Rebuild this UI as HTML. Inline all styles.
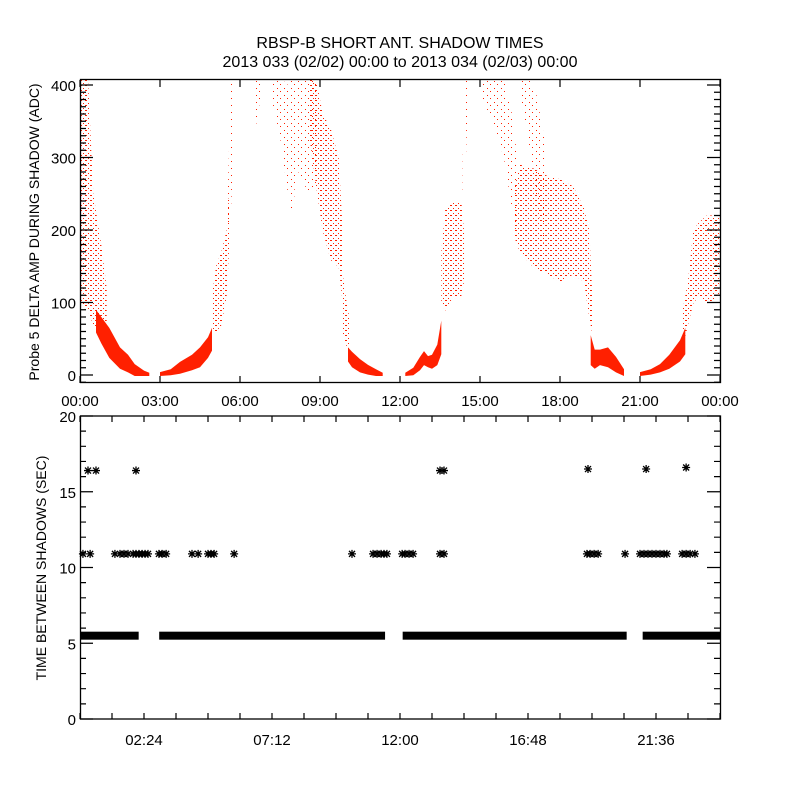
<!DOCTYPE html>
<html><head><meta charset="utf-8"><style>
body{margin:0;background:#fff}
svg text{font-family:"Liberation Sans",sans-serif;fill:#000}
</style></head><body>
<svg id="chart" width="800" height="800" viewBox="0 0 800 800" xmlns="http://www.w3.org/2000/svg">
<defs>
<pattern id="sparse" width="5" height="5" patternUnits="userSpaceOnUse"><rect x="0" y="0" width="2" height="1" fill="#ff2000"/><rect x="3" y="3" width="1" height="1" fill="#ff2000"/></pattern>
<pattern id="light" width="7" height="7" patternUnits="userSpaceOnUse"><rect x="0" y="0" width="1" height="1" fill="#ff2000"/><rect x="4" y="4" width="1" height="1" fill="#ff2000"/></pattern>
<clipPath id="clipTop"><rect x="80" y="80" width="640" height="303"/></clipPath>
</defs>
<rect width="800" height="800" fill="#fff"/>
<text x="400" y="48" font-size="16" text-anchor="middle">RBSP-B SHORT ANT. SHADOW TIMES</text>
<text x="400" y="67" font-size="16" text-anchor="middle">2013 033 (02/02) 00:00 to 2013 034 (02/03) 00:00</text>
<g id="topPanel"></g>
<g id="botPanel"></g>
<text transform="translate(39,232) rotate(-90)" font-size="14" text-anchor="middle">Probe 5 DELTA AMP DURING SHADOW (ADC)</text>
<text transform="translate(46,568) rotate(-90)" font-size="14" text-anchor="middle">TIME BETWEEN SHADOWS (SEC)</text>
</svg>
<script>
// ---- top panel data: clusters (hours, low ADC, high ADC, density) ----
const c1aH=[0.0,0.3,0.5,0.8,1.0], c1aLo=[100,90,70,60,50], c1aHi=[410,410,250,180,120];
const c1bH=[0.6,0.8,1.1,1.5,1.8,2.05,2.4,2.6], c1bLo=[60,45,25,10,5,0,0,0], c1bHi=[90,80,65,38,28,15,6,3];
const c2aH=[3.0,3.4,3.75,4.2,4.5,4.8,4.95], c2aLo=[0,1,3,8,12,25,35], c2aHi=[4,8,18,28,38,52,65];
const c2bH=[4.95,5.1,5.3,5.5,5.6], c2bLo=[60,60,70,110,180], c2bHi=[110,150,170,200,260];
const c2cH=[5.55,5.65,5.75,5.8], c2cLo=[200,220,300,380], c2cHi=[260,400,410,410];
const s3aH=[6.5,6.6,6.8], s3aLo=[370,345,390], s3aHi=[410,410,410];
const s3bH=[7.2,7.5,7.8,8.0,8.1], s3bLo=[380,330,250,215,300], s3bHi=[410,410,400,380,360];
const s3cH=[7.9,8.2,8.6,8.9], s3cLo=[340,280,250,270], s3cHi=[410,410,410,410];
const m3H=[8.6,8.9,9.1,9.4,9.7,9.85], m3Lo=[330,250,200,160,150,100], m3Hi=[410,400,360,340,300,200];
const t3H=[9.85,10.0,10.1], t3Lo=[60,40,30], t3Hi=[140,100,80];
const d3H=[10.05,10.2,10.5,10.8,11.1,11.35], d3Lo=[20,12,5,2,0,0], d3Hi=[38,32,22,14,8,3];
const d4H=[12.2,12.5,12.75,12.9,13.05,13.2,13.4,13.55], d4Lo=[0,1,8,15,12,10,15,30], d4Hi=[3,10,25,33,26,28,42,75];
const s4H=[13.55,13.7,14.0,14.3,14.4], s4Lo=[100,90,110,110,130], s4Hi=[170,230,240,240,200];
const l4H=[14.35,14.45,14.55], l4Lo=[250,270,390], l4Hi=[300,410,410];
const s5aH=[15.1,15.5,15.9,16.2,16.4], s5aLo=[380,350,300,230,185], s5aHi=[410,410,410,360,300];
const s5bH=[16.5,16.8,17.1,17.4], s5bLo=[390,330,250,180], s5bHi=[410,410,390,330];
const cl5H=[16.3,16.5,17.0,17.5,18.0,18.5,18.9,19.1,19.2], cl5Lo=[190,170,150,140,130,140,130,80,60], cl5Hi=[260,290,285,275,270,260,230,200,120];
const d5H=[19.15,19.3,19.5,19.8,20.1,20.4], d5Lo=[15,10,15,12,5,0], d5Hi=[55,35,35,38,25,8];
const d6H=[21.0,21.4,21.75,22.1,22.5,22.7], d6Lo=[0,2,5,10,20,30], d6Hi=[4,8,15,28,48,65];
const s6H=[22.6,22.8,23.0,23.2,23.5,24.0], s6Lo=[40,70,100,110,100,110], s6Hi=[90,130,200,210,220,220];
const topClusters=[
 [c1aH,c1aLo,c1aHi,'s'],[c1bH,c1bLo,c1bHi,'d'],[c2aH,c2aLo,c2aHi,'d'],[c2bH,c2bLo,c2bHi,'s'],[c2cH,c2cLo,c2cHi,'l'],
 [s3aH,s3aLo,s3aHi,'l'],[s3bH,s3bLo,s3bHi,'l'],[s3cH,s3cLo,s3cHi,'l'],[m3H,m3Lo,m3Hi,'s'],[t3H,t3Lo,t3Hi,'s'],[d3H,d3Lo,d3Hi,'d'],
 [d4H,d4Lo,d4Hi,'d'],[s4H,s4Lo,s4Hi,'s'],[l4H,l4Lo,l4Hi,'l'],
 [s5aH,s5aLo,s5aHi,'l'],[s5bH,s5bLo,s5bHi,'l'],[cl5H,cl5Lo,cl5Hi,'s'],[d5H,d5Lo,d5Hi,'d'],
 [d6H,d6Lo,d6Hi,'d'],[s6H,s6Lo,s6Hi,'s']];
const topYTicks=[0,100,200,300,400];
const topXLabels=['00:00','03:00','06:00','09:00','12:00','15:00','18:00','21:00','00:00'];
// ---- bottom panel data ----
const bandStart=[0.0,2.97,12.1,21.1], bandEnd=[2.2,11.44,20.5,24.0], bandValue=[5.5,5.5,5.5,5.5];
const pts11T=[0.11,0.38,1.31,1.5,1.65,1.8,1.99,2.1,2.21,2.33,2.44,2.55,2.96,3.08,3.23,4.2,4.43,4.8,4.91,5.03,5.78,10.2,10.99,11.14,11.29,11.4,11.51,12.08,12.19,12.34,12.49,13.5,13.65,19.01,19.13,19.28,19.43,20.44,21.0,21.15,21.3,21.45,21.6,21.75,21.9,22.01,22.58,22.73,22.88,23.06];
const pts11V=[10.9,10.9,10.9,10.9,10.9,10.9,10.9,10.9,10.9,10.9,10.9,10.9,10.9,10.9,10.9,10.9,10.9,10.9,10.9,10.9,10.9,10.9,10.9,10.9,10.9,10.9,10.9,10.9,10.9,10.9,10.9,10.9,10.9,10.9,10.9,10.9,10.9,10.9,10.9,10.9,10.9,10.9,10.9,10.9,10.9,10.9,10.9,10.9,10.9,10.9];
const pts16T=[0.3,0.6,2.1,13.5,13.65,19.05,21.23,22.73];
const pts16V=[16.4,16.4,16.4,16.4,16.4,16.5,16.5,16.6];
const botYTicks=[0,5,10,15,20];
const botXTickHours=[2.4,7.2,12.0,16.8,21.6];
const botXLabels=['02:24','07:12','12:00','16:48','21:36'];

const NS='http://www.w3.org/2000/svg';
function mk(tag,attrs,parent){const e=document.createElementNS(NS,tag);for(const k in attrs)e.setAttribute(k,attrs[k]);parent.appendChild(e);return e;}
const X0=80,X1=720;
const tx=h=>X0+h/24*(X1-X0);
const T0=80,T1=383; const ty=v=>375-v*0.725;
const B0=416,B1=719; const by=v=>B1-v*(B1-B0)/20;
const fills={d:'#ff2000',s:'url(#sparse)',l:'url(#light)'};

const topG=document.getElementById('topPanel');
const dots=mk('g',{'clip-path':'url(#clipTop)'},topG);


topClusters.forEach((c)=>{
  const H=c[0],Lo=c[1],Hi=c[2],d=c[3];let p=[];
  for(let j=0;j<H.length;j++)p.push(tx(H[j]).toFixed(1)+','+ty(Hi[j]).toFixed(1));
  for(let j=H.length-1;j>=0;j--)p.push(tx(H[j]).toFixed(1)+','+(ty(Lo[j])+1).toFixed(1));
  const e=mk('polygon',{points:p.join(' '),fill:fills[d]},dots);
  
  
});
const fr=mk('rect',{x:X0+0.5,y:T0-0.5,width:X1-X0,height:T1-T0,fill:'none',stroke:'#000','stroke-width':1.3},topG);


let tk='';
for(let v=-10;v<=410;v+=10){const y=ty(v);if(y<T0||y>T1)continue;const L=(v%100===0)?13:6;tk+=`M${X0},${y}h${L}M${X1},${y}h${-L}`;}
for(let h=0;h<=24;h+=3){const x=tx(h);tk+=`M${x},${T1}v-7M${x},${T0}v7`;}
const tp=mk('path',{d:tk,stroke:'#000','stroke-width':1.2,fill:'none'},topG);


topYTicks.forEach(v=>{const t=mk('text',{x:X0-4,y:ty(v)+6,'font-size':15,'text-anchor':'end'},topG);t.textContent=String(v);

});
topXLabels.forEach((s,i)=>{const t=mk('text',{x:tx(i*3),y:406,'font-size':15,'text-anchor':'middle'},topG);t.textContent=s;

});

const botG=document.getElementById('botPanel');
const br=mk('rect',{x:X0+0.5,y:B0,width:X1-X0,height:B1-B0,fill:'none',stroke:'#000','stroke-width':1.3},botG);


let bk='';
for(let v=0;v<=20;v++){const y=by(v);const L=(v%5===0)?13:6;bk+=`M${X0},${y}h${L}M${X1},${y}h${-L}`;}
for(let i=0;i<=20;i++){const x=tx(i*1.2);bk+=`M${x},${B1}v-6M${x},${B0}v6`;}
const bp=mk('path',{d:bk,stroke:'#000','stroke-width':1.2,fill:'none'},botG);


botYTicks.forEach(v=>{const t=mk('text',{x:X0-4,y:by(v)+6,'font-size':15,'text-anchor':'end'},botG);t.textContent=String(v);

});
botXLabels.forEach((s,i)=>{const t=mk('text',{x:tx(botXTickHours[i]),y:745,'font-size':15,'text-anchor':'middle'},botG);t.textContent=s;

});
for(let i=0;i<bandStart.length;i++){
  const r=mk('rect',{x:tx(bandStart[i]),y:by(bandValue[i])-4,width:tx(bandEnd[i])-tx(bandStart[i]),height:8,fill:'#000'},botG);
  
  
}
function star(x,y){return `M${x-4},${y}h8M${x},${y-4}v8M${x-3},${y-3}l6,6M${x-3},${y+3}l6,-6`;}
let sd='';
pts11T.forEach((h,i)=>{sd+=star(tx(h),by(pts11V[i]));});
pts16T.forEach((h,i)=>{sd+=star(tx(h),by(pts16V[i]));});
const sp=mk('path',{d:sd,stroke:'#000','stroke-width':1.3,fill:'none'},botG);


</script>
</body></html>
